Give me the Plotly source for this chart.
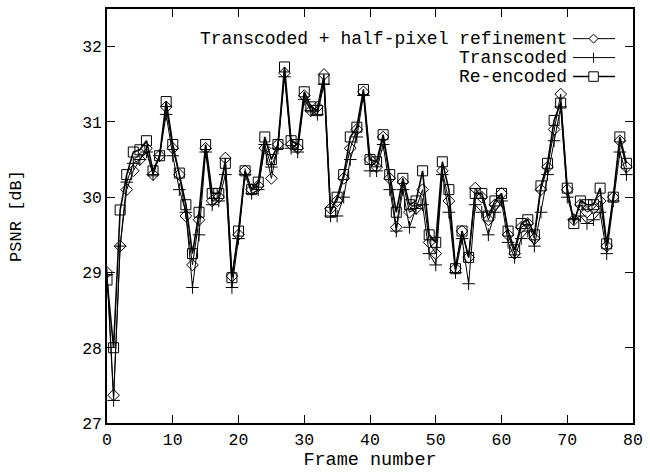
import plotly.graph_objects as go

frames = list(range(80))

half_pel = [29.0, 27.37, 29.35, 30.1, 30.35, 30.5, 30.65, 30.3, 30.55, 31.2,
            30.65, 30.3, 29.75, 29.1, 29.7, 30.65, 29.95, 30.0, 30.52, 28.95,
            29.5, 30.35, 30.1, 30.15, 30.65, 30.25, 30.7, 31.65, 30.7, 30.65,
            31.35, 31.15, 31.2, 31.63, 29.85, 29.95, 30.25, 30.65, 30.9, 31.4,
            30.5, 30.4, 30.8, 30.25, 29.6, 30.2, 29.8, 29.85, 30.1, 29.4,
            29.25, 30.35, 29.95, 29.05, 29.55, 29.2, 30.12, 30.0, 29.7, 29.9,
            30.05, 29.5, 29.25, 29.6, 29.65, 29.45, 30.1, 30.4, 30.9, 31.37,
            30.1, 29.7, 29.9, 29.8, 29.85, 29.95, 29.35, 30.0, 30.75, 30.4]

transcoded = [28.97, 27.3, 29.35, 30.2, 30.45, 30.5, 30.6, 30.3, 30.55, 31.1,
              30.55, 30.1, 29.8, 28.8, 29.5, 30.6, 29.9, 29.95, 30.3, 28.8,
              29.45, 30.3, 30.05, 30.1, 30.7, 30.4, 30.65, 31.6, 30.65, 30.6,
              31.3, 31.15, 31.1, 31.5, 29.75, 29.75, 30.0, 30.5, 30.8, 31.35,
              30.35, 30.35, 30.7, 30.1, 29.55, 30.1, 29.6, 29.85, 29.9, 29.25,
              29.1, 30.3, 29.8, 29.0, 29.45, 28.85, 29.9, 29.8, 29.5, 29.8,
              29.95, 29.4, 29.2, 29.45, 29.55, 29.35, 29.8, 30.3, 30.75, 31.2,
              30.0, 29.7, 29.75, 29.65, 29.7, 29.8, 29.25, 29.95, 30.6, 30.3]

reencoded = [28.9, 28.0, 29.83, 30.3, 30.6, 30.63, 30.75, 30.35, 30.55, 31.27,
             30.7, 30.32, 29.9, 29.25, 29.8, 30.7, 30.05, 30.05, 30.45, 28.93,
             29.55, 30.35, 30.1, 30.2, 30.8, 30.5, 30.7, 31.73, 30.75, 30.7,
             31.4, 31.2, 31.15, 31.57, 29.8, 30.0, 30.3, 30.8, 30.93, 31.43,
             30.5, 30.47, 30.83, 30.3, 29.8, 30.25, 29.9, 29.95, 30.35, 29.5,
             29.4, 30.47, 30.1, 29.05, 29.55, 29.2, 30.05, 30.05, 29.75, 29.95,
             30.05, 29.55, 29.3, 29.65, 29.7, 29.5, 30.15, 30.45, 31.02, 31.25,
             30.12, 29.65, 29.95, 29.9, 29.9, 30.12, 29.38, 30.0, 30.8, 30.45]

series_names = ["Transcoded + half-pixel refinement", "Transcoded", "Re-encoded"]
x_ticks = [0, 10, 20, 30, 40, 50, 60, 70, 80]
y_ticks = [27, 28, 29, 30, 31, 32]

FONT = "Liberation Mono"

fig = go.Figure()
fig.add_trace(go.Scatter(x=frames, y=half_pel, mode="lines+markers", name=series_names[0],
                         line=dict(color="black", width=1),
                         marker=dict(symbol="diamond-open", size=9, color="black", line=dict(width=1))))
fig.add_trace(go.Scatter(x=frames, y=transcoded, mode="lines+markers", name=series_names[1],
                         line=dict(color="black", width=1),
                         marker=dict(symbol="cross-thin-open", size=9, color="black", line=dict(width=1))))
fig.add_trace(go.Scatter(x=frames, y=reencoded, mode="lines+markers", name=series_names[2],
                         line=dict(color="black", width=1.6),
                         marker=dict(symbol="square-open", size=10, color="black", line=dict(width=1))))

# manual legend (text right-aligned, sample on the right)
legend_rows_y = [0.9284, 0.8826, 0.8368]
text_right = 0.877
for i, name in enumerate(series_names):
    yy = legend_rows_y[i]
    fig.add_annotation(x=text_right, y=yy, xref="paper", yref="paper", text=name,
                       showarrow=False, xanchor="right", yanchor="middle", borderpad=0,
                       font=dict(family=FONT, size=18, color="black"))
    fig.add_shape(type="line", xref="paper", yref="paper", x0=0.886, x1=0.966, y0=yy, y1=yy,
                  line=dict(color="black", width=1.6 if i == 2 else 1))
    cx = 0.925
    if i == 0:
        dx, dy = 0.0085, 0.011
        fig.add_shape(type="path", xref="paper", yref="paper",
                      path=f"M {cx-dx} {yy} L {cx} {yy+dy} L {cx+dx} {yy} L {cx} {yy-dy} Z",
                      line=dict(color="black", width=1), fillcolor="white")
    elif i == 1:
        fig.add_shape(type="line", xref="paper", yref="paper", x0=cx, x1=cx, y0=yy-0.012, y1=yy+0.012,
                      line=dict(color="black", width=1))
    else:
        dx, dy = 0.009, 0.0115
        fig.add_shape(type="rect", xref="paper", yref="paper", x0=cx-dx, x1=cx+dx, y0=yy-dy, y1=yy+dy,
                      line=dict(color="black", width=1), fillcolor="white")

axis_common = dict(showgrid=False, zeroline=False, showline=True, linecolor="black", linewidth=1.5,
                   mirror="ticks", ticks="inside", ticklen=8, tickcolor="black", tickwidth=1,
                   tickfont=dict(family=FONT, size=16.5, color="black"))

fig.update_xaxes(range=[0, 80], tickvals=x_ticks, ticktext=[str(v) for v in x_ticks],
                 title=dict(text="Frame number", font=dict(family=FONT, size=18.5, color="black"), standoff=0),
                 **axis_common)
fig.update_yaxes(range=[27, 32.5], tickvals=y_ticks, ticktext=[str(v) for v in y_ticks],
                 title=dict(text="PSNR [dB]", font=dict(family=FONT, size=17, color="black"), standoff=56),
                 **axis_common)

fig.update_layout(width=650, height=474, margin=dict(l=107, r=10, t=7, b=51),
                  plot_bgcolor="white", paper_bgcolor="white", showlegend=False)

fig.write_html("out.html")
